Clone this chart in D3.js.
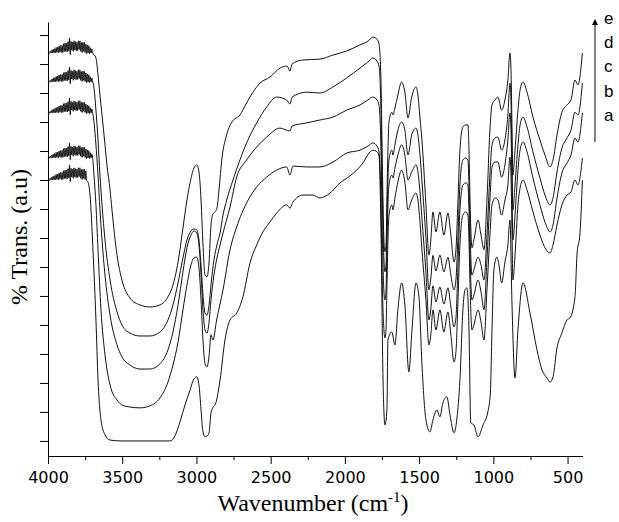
<!DOCTYPE html>
<html>
<head>
<meta charset="utf-8">
<script src="https://cdn.jsdelivr.net/npm/d3@7"></script>
<style>
  body { margin: 0; background: #fff; }
  .axis path, .axis line { stroke: #000; stroke-width: 1; }
  .axis text { font-family: "DejaVu Sans", "Liberation Sans", Arial, sans-serif; font-size: 16px; fill: #000; }
</style>
</head>
<body>
<script>
var width = 619,
    height = 522;

// noisy O-H overtone region, 4000-3700 cm-1 every 5 cm-1
var noiseWn = [4000,3995,3990,3985,3980,3975,3970,3965,3960,3955,3950,3945,3940,3935,3930,3925,3920,3915,3910,3905,3900,3895,3890,3885,3880,3875,3870,3865,3860,3855,3850,3845,3840,3835,3830,3825,3820,3815,3810,3805,3800,3795,3790,3785,3780,3775,3770,3765,3760,3755,3750,3745,3740,3735,3730,3725,3720,3715,3710,3705,3700];

var noiseE = [133.8,134.1,133.7,134.4,133.8,134.8,133.8,135.1,133.9,135.3,133.9,135.7,134.0,135.8,133.9,136.2,134.1,136.4,134.0,136.4,134.0,137.0,134.3,137.2,134.3,137.2,134.2,137.7,134.5,139.0,133.2,137.8,134.8,137.5,134.4,138.0,134.8,137.7,134.6,137.5,134.7,138.0,135.0,138.0,134.4,137.4,134.0,137.5,134.4,137.5,134.0,136.9,133.6,136.6,133.8,136.3,133.6,135.6,133.8,135.2,134.1];
var noiseD = [123.8,124.1,123.7,124.4,123.8,124.8,123.8,125.1,123.9,125.3,123.9,125.7,124.0,125.8,123.9,126.2,124.1,126.4,124.0,126.4,124.0,127.0,124.3,127.2,124.3,127.2,124.2,127.7,124.5,129.0,123.2,127.8,124.8,127.5,124.4,128.0,124.8,127.7,124.6,127.5,124.7,128.0,125.0,128.0,124.4,127.4,124.0,127.5,124.4,127.5,124.0,126.9,123.6,126.6,123.8,126.3,123.6,125.6,123.8,125.2,124.1];
var noiseC = [113.1,113.4,113.0,113.7,113.1,114.1,113.1,114.4,113.2,114.6,113.2,115.0,113.3,115.1,113.2,115.5,113.4,115.7,113.3,115.7,113.3,116.3,113.6,116.5,113.6,116.5,113.5,117.0,113.8,118.3,112.5,117.1,114.1,116.8,113.7,117.3,114.1,117.0,113.9,116.8,114.0,117.3,114.3,117.3,113.7,116.7,113.3,116.8,113.7,116.8,113.3,116.2,112.9,115.9,113.1,115.6,112.9,114.9,113.1,114.5,113.4];
var noiseB = [97.6,97.9,97.5,98.2,97.6,98.6,97.6,98.9,97.7,99.1,97.7,99.5,97.8,99.6,97.7,100.0,97.9,100.2,97.8,100.2,97.8,100.8,98.1,101.0,98.1,101.0,98.0,101.5,98.3,102.8,97.0,101.6,98.6,101.3,98.2,101.8,98.6,101.5,98.4,101.3,98.5,101.8,98.8,101.8,98.2,101.2,97.8,101.3,98.2,101.3,97.8,100.7,97.4,100.4,97.6,100.1,97.4,99.4,97.6,99.0,97.9];
var noiseA = [90.0,90.3,89.9,90.6,90.0,91.0,90.0,91.3,90.1,91.5,90.1,91.9,90.2,92.0,90.1,92.4,90.3,92.6,90.2,92.6,90.2,93.2,90.5,93.4,90.5,93.4,90.4,93.9,90.7,95.2,89.4,94.0,91.0,93.7,90.6,94.2,91.0,93.9,90.8,93.7,90.9,94.2,91.2,94.2,90.6,93.6,90.2,93.7,90.6,93.7,90.2,93.1,89.8];

// rest of each spectrum, [wavenumber (cm-1), transmittance (a.u.)]
var bodyE = [[3677,132.1],[3663,126.2],[3650,119.3],[3636,112.4],[3616,102.1],[3603,95.2],[3582,86.6],[3569,79.7],[3535,64.1],[3502,55.5],[3448,49.3],[3380,46.9],[3313,46.2],[3246,46.9],[3192,49.7],[3158,53.8],[3124,61.7],[3091,73.4],[3064,83.1],[3043,89],[3017,94.1],[2998,95.2],[2983,92.8],[2969,83.1],[2956,67.6],[2942,57.2],[2929,56.6],[2915,61.7],[2902,74.5],[2889,78.3],[2875,79],[2862,80.3],[2848,86.6],[2828,97.6],[2801,104.8],[2761,110],[2707,112.4],[2662,116.6],[2619,120.3],[2572,123.4],[2505,125.5],[2437,128.6],[2390,129.3],[2370,127.6],[2356,130],[2282,131.4],[2168,131.7],[2080,133.1],[1988,134.5],[1898,136.6],[1845,137.9],[1811,139.3],[1784,138.6],[1770,136.9],
  [1757,124.5],[1747,93.4],[1737,69.3],[1730,65.2],[1723,67.6],[1717,83.1],[1710,100.3],[1703,110],[1684,113.4],[1676,112.4],[1663,114.8],[1643,119.3],[1618,123.8],[1596,120.3],[1575,111.4],[1550,118.6],[1521,122.1],[1508,119.3],[1494,111.4],[1481,103.8],[1454,81.4],[1434,64.1],[1421,69.3],[1407,79],[1387,72.1],[1360,79],[1333,71],[1306,78.6],[1286,71],[1265,61.7],[1252,65.9],[1238,83.1],[1225,100.3],[1205,108.3],[1185,109],[1171,109],[1164,100.3],[1157,83.1],[1144,66.6],[1131,69.3],[1103,76.2],[1083,71],[1063,65.9],[1043,83.1],[1023,107.2],[1009,115.9],[989,117.6],[969,118.6],[944,114.1],[922,117.6],[902,124.5],[888,133.8],[881,127.9],[875,110.7],[868,91.7],[854,100.3],[834,114.1],[820,121],[800,123.8],[773,120.3],[733,111.7],[686,103.8],[652,98.6],[618,94.5],[598,96.9],[571,105.5],[538,113.4],[504,115.9],[477,117.6],[450,124.5],[430,122.8],[400,133.8]];

var bodyD = [[3690,121.7],[3677,114.1],[3663,103.8],[3650,91.7],[3636,81.4],[3616,69.3],[3582,55.5],[3535,44.5],[3502,40],[3448,37.2],[3380,36.2],[3313,36.2],[3246,37.6],[3192,41.7],[3158,46.9],[3124,54.5],[3091,63.1],[3064,69.3],[3037,72.4],[3017,73.1],[2998,72.8],[2983,69.3],[2969,60.7],[2956,50.3],[2942,44.1],[2929,43.4],[2915,46.9],[2902,53.8],[2882,62.4],[2862,67.6],[2841,71.7],[2821,77.9],[2796,83.1],[2754,90],[2707,96.9],[2662,102.8],[2594,109.7],[2527,115.2],[2460,118.6],[2392,117.6],[2370,116.2],[2356,118.6],[2257,120.3],[2168,120],[2080,122.1],[1988,125.2],[1898,128.6],[1845,130.7],[1811,132.1],[1784,131],[1770,129.3],
  [1757,114.1],[1747,83.1],[1737,62.4],[1730,58.3],[1723,60.7],[1717,74.5],[1710,90],[1703,96.9],[1684,100.3],[1676,98.6],[1663,102.1],[1643,107.2],[1618,110],[1596,107.2],[1575,98.6],[1550,105.5],[1521,107.9],[1508,105.5],[1494,98.6],[1481,89.7],[1454,70],[1434,52.1],[1421,56.2],[1407,64],[1387,58.6],[1360,64.1],[1333,58.3],[1306,63.4],[1286,57.2],[1265,52.1],[1252,55.5],[1238,71],[1225,88.3],[1205,96.9],[1185,97.6],[1171,96.9],[1164,88.3],[1157,72.8],[1144,57.2],[1131,59],[1103,63.4],[1083,60.7],[1063,55.5],[1043,71],[1023,91.7],[1009,102.1],[989,104.5],[969,104.8],[944,100.3],[922,103.8],[902,112.4],[888,123.4],[881,117.6],[875,100.3],[868,79.7],[854,88.3],[834,102.1],[820,109],[800,111.7],[773,108.3],[733,99.7],[686,90.7],[652,84.8],[618,81.4],[598,83.8],[571,92.8],[538,101],[504,104.5],[477,107.2],[450,113.4],[430,112.4],[400,123.4]];

var bodyC = [[3690,110],[3677,102.1],[3663,91.7],[3650,79.7],[3636,69.3],[3616,57.2],[3582,43.4],[3535,33.1],[3502,29],[3448,26.2],[3380,24.8],[3313,24.8],[3246,26.6],[3192,31.4],[3158,37.6],[3124,46.9],[3091,58.3],[3064,66.6],[3037,71],[3017,72.4],[2998,71.7],[2983,67.6],[2969,57.2],[2956,45.2],[2942,38.3],[2929,37.2],[2915,41],[2902,48.6],[2882,57.2],[2862,63.1],[2841,67.6],[2821,71.7],[2774,80.7],[2729,91],[2662,96.9],[2594,101.4],[2527,104.8],[2437,107.9],[2370,106.9],[2356,108.6],[2257,109.7],[2168,110.7],[2080,111.7],[1988,114.1],[1898,115.9],[1845,117.6],[1811,118.6],[1784,117.6],[1770,115.9],
  [1757,100.3],[1747,69.3],[1737,51.4],[1730,48.6],[1723,52.1],[1717,65.9],[1710,81.4],[1703,88.3],[1684,91.7],[1676,90.7],[1663,94.1],[1643,98.6],[1618,102.1],[1596,98.6],[1575,90],[1550,92.8],[1521,95.2],[1508,92.8],[1494,85.9],[1481,76.9],[1454,58],[1434,41.7],[1421,45.5],[1407,53.5],[1387,47.9],[1360,53.1],[1333,47.2],[1306,52.8],[1286,46.2],[1265,39.3],[1252,42.4],[1238,60.7],[1225,79.7],[1205,88.3],[1185,89],[1171,88.3],[1164,79.7],[1157,64.1],[1144,48.6],[1131,50.3],[1103,55.5],[1083,51.4],[1063,45.2],[1043,62.4],[1023,83.1],[1009,94.5],[989,96.2],[969,96.2],[944,91],[922,95.2],[902,103.8],[888,113.1],[881,107.2],[875,90],[868,69.3],[854,77.9],[834,93.4],[820,100.3],[800,103.1],[773,99.7],[733,90.7],[686,81.4],[652,75.5],[618,72.1],[598,74.5],[571,83.8],[538,92.4],[504,95.9],[477,98.6],[450,104.5],[430,103.1],[400,113.1]];

var bodyB = [[3690,91.7],[3677,81.4],[3663,65.9],[3643,45.2],[3616,29.7],[3582,19.3],[3535,14.1],[3502,12.4],[3448,11.7],[3380,11.4],[3313,12.1],[3246,14.8],[3192,20.3],[3158,26.2],[3124,34.1],[3091,45.2],[3064,53.8],[3037,60.7],[3017,63.1],[2998,63.4],[2983,59.7],[2969,48.6],[2956,34.8],[2942,26.6],[2929,25.5],[2915,29.3],[2902,36.6],[2889,34.8],[2864,41.7],[2821,52.1],[2774,65.9],[2729,73.8],[2662,82.1],[2594,87.6],[2527,91],[2460,93.4],[2392,94.5],[2370,91.7],[2350,94.8],[2257,94.5],[2168,94.5],[2080,96.2],[1988,99.3],[1898,100.3],[1845,101.7],[1811,102.8],[1784,101.7],[1770,99.7],
  [1757,83.1],[1747,52.1],[1737,38.3],[1730,35.5],[1723,38.3],[1717,52.1],[1710,69.3],[1703,77.9],[1684,81.4],[1676,79.7],[1663,83.8],[1643,89.3],[1618,93.4],[1596,89.3],[1575,79.7],[1550,83.1],[1521,85.5],[1508,83.1],[1494,75.5],[1481,65.9],[1454,48.6],[1434,33.1],[1421,36.6],[1407,45.2],[1387,38.3],[1360,45.2],[1333,37.6],[1306,44.5],[1286,36.6],[1265,27.2],[1252,30.7],[1238,48.6],[1225,67.6],[1205,77.9],[1185,79],[1171,77.9],[1164,69.3],[1157,53.8],[1144,38.3],[1131,40],[1103,45.2],[1083,41],[1063,34.8],[1043,52.1],[1023,71],[1009,81.4],[989,83.8],[969,83.1],[944,77.9],[922,83.1],[902,88.3],[888,97.9],[881,91.7],[875,74.5],[868,55.5],[854,64.1],[834,81.4],[820,87.2],[800,90],[773,86.6],[733,79],[686,71],[652,66.6],[618,64.8],[598,67.6],[571,74.5],[538,81.4],[504,84.8],[477,85.9],[450,90],[430,88.3],[400,97.6]];

var bodyA = [[3731,89.3],[3717,84.8],[3697,65.9],[3677,41.7],[3663,21],[3643,7.2],[3616,2.1],[3582,0.3],[3515,0],[3178,0],[3145,1.7],[3111,6.6],[3077,12.4],[3043,17.6],[3017,21.4],[2998,22.1],[2983,19.3],[2969,10.7],[2956,3.1],[2942,1.4],[2929,1.7],[2915,2.8],[2902,9.7],[2864,14.1],[2841,21],[2808,34.8],[2774,41.7],[2729,44.1],[2687,49.7],[2639,61.4],[2594,67.6],[2552,72.1],[2505,75.5],[2460,78.6],[2392,81.4],[2370,80.3],[2350,82.4],[2282,84.8],[2215,84.8],[2168,83.8],[2100,85.5],[2033,89],[1966,91.4],[1878,95.9],[1831,99.7],[1811,100.3],[1790,100],[1770,98.3],
  [1757,72.8],[1743,21],[1730,5.5],[1717,10.7],[1710,34.8],[1699,36.6],[1684,37.6],[1663,33.1],[1643,45.2],[1618,54.5],[1596,46.9],[1569,23.8],[1548,38.3],[1521,54.5],[1501,49.7],[1481,26.6],[1454,7.2],[1427,3.1],[1407,7.2],[1380,10.7],[1360,8.3],[1340,13.1],[1313,15.2],[1292,9],[1265,2.8],[1245,7.9],[1225,21],[1205,45.2],[1191,52.1],[1178,52.8],[1164,38.3],[1152,6.2],[1131,5.5],[1103,1.4],[1070,5.5],[1037,10],[1020,16.6],[1009,38.3],[996,59],[976,63.4],[962,60.7],[944,54.5],[922,61.7],[902,67.6],[888,76.2],[875,48.6],[854,21.7],[834,38.3],[800,54.5],[753,44.1],[706,31.4],[672,24.5],[638,21.7],[618,20.3],[598,22.1],[571,32.1],[538,37.2],[504,41.7],[484,42.4],[450,49.7],[436,64.5],[416,71.7],[400,90]];

var seriesLabels = ["a", "b", "c", "d", "e"];
var xMajorTicks = [4000, 3500, 3000, 2500, 2000, 1500, 1000, 500];
var xMinorTicks = [3750, 3250, 2750, 2250, 1750, 1250, 750];
var yTicks = [0, 10, 20, 30, 40, 50, 60, 70, 80, 90, 100, 110, 120, 130, 140];

function joinSpectrum(noise, body) {
  return noiseWn.slice(0, noise.length).map(function(w, i) {
    return [w, noise[i]];
  }).concat(body);
}

var series = [
  joinSpectrum(noiseA, bodyA),
  joinSpectrum(noiseB, bodyB),
  joinSpectrum(noiseC, bodyC),
  joinSpectrum(noiseD, bodyD),
  joinSpectrum(noiseE, bodyE)
];

var xScale = d3.scaleLinear()
    .domain([4000, 400])
    .range([48, 582.4]);

var yScale = d3.scaleLinear()
    .domain([-5.2, 144.5])
    .range([456, 22]);

var svg = d3.select("body")
    .append("svg")
    .attr("width", width)
    .attr("height", height);

// axes
svg.append("g")
   .attr("class", "axis")
   .attr("transform", "translate(0,456)")
   .call(d3.axisBottom(xScale).tickValues(xMinorTicks).tickSize(4).tickSizeOuter(0).tickFormat(""));

svg.append("g")
   .attr("class", "axis")
   .attr("transform", "translate(0,456)")
   .call(d3.axisBottom(xScale).tickValues(xMajorTicks).tickSize(8).tickSizeOuter(0).tickPadding(8).tickFormat(d3.format("d")));

svg.append("g")
   .attr("class", "axis")
   .attr("transform", "translate(48,0)")
   .call(d3.axisLeft(yScale).tickValues(yTicks).tickSize(8).tickSizeOuter(0).tickFormat(""));

// spectra
var line = d3.line()
    .x(function(d) { return xScale(d[0]); })
    .y(function(d) { return yScale(d[1]); })
    .curve(d3.curveMonotoneX);

svg.selectAll("path.spectrum")
   .data(series)
   .enter()
   .append("path")
   .attr("class", "spectrum")
   .attr("d", line)
   .attr("fill", "none")
   .attr("stroke", "#111")
   .attr("stroke-width", 1);

// axis titles
var xTitle = svg.append("text")
   .attr("x", 313)
   .attr("y", 511)
   .attr("text-anchor", "middle")
   .attr("font-family", "'Liberation Serif', 'Times New Roman', serif")
   .attr("font-size", "24px");

xTitle.append("tspan").text("Wavenumber (cm");
xTitle.append("tspan")
   .attr("font-size", "15px")
   .attr("dy", -9)
   .text("-1");
xTitle.append("tspan")
   .attr("dy", 9)
   .text(")");

svg.append("text")
   .attr("transform", "translate(27,237) rotate(-90)")
   .attr("text-anchor", "middle")
   .attr("font-family", "'Liberation Serif', 'Times New Roman', serif")
   .attr("font-size", "24px")
   .text("% Trans. (a.u)");

// legend arrow a -> e
svg.append("defs")
   .append("marker")
   .attr("id", "arrow")
   .attr("viewBox", "0 0 10 10")
   .attr("refX", 5)
   .attr("refY", 5)
   .attr("markerWidth", 6)
   .attr("markerHeight", 6)
   .attr("orient", "auto")
   .append("path")
   .attr("d", "M0,0L10,5L0,10z")
   .attr("fill", "#000");

svg.append("line")
   .attr("x1", 595)
   .attr("y1", 142)
   .attr("x2", 595)
   .attr("y2", 22)
   .attr("stroke", "#000")
   .attr("stroke-width", 1)
   .attr("marker-end", "url(#arrow)");

svg.selectAll("text.legend")
   .data(seriesLabels)
   .enter()
   .append("text")
   .attr("class", "legend")
   .attr("x", 604)
   .attr("y", function(d, i) { return 121 - i * 24.3; })
   .attr("font-family", "'Liberation Sans', Arial, sans-serif")
   .attr("font-size", "17px")
   .text(function(d) { return d; });
</script>
</body>
</html>
